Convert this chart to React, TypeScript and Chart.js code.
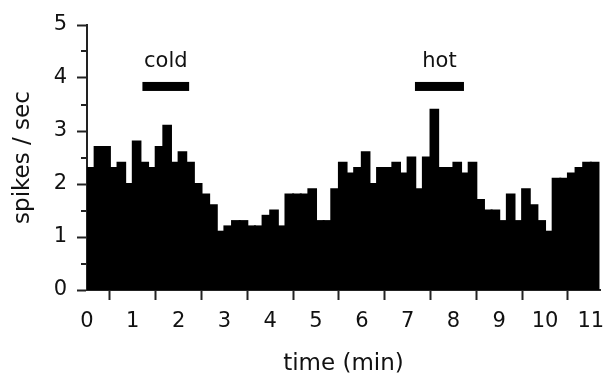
import { useEffect, useRef } from 'react';
import { Chart, registerables } from 'chart.js';

Chart.register(...registerables);

// ---- data ----
const BIN_MIN = 1 / 6; // 10 s bins, in minutes
const RATES = [
  2.3, 2.7, 2.7, 2.3, 2.4, 2.0, 2.8, 2.4, 2.3, 2.7,
  3.1, 2.4, 2.6, 2.4, 2.0, 1.8, 1.6, 1.1, 1.2, 1.3,
  1.3, 1.2, 1.2, 1.4, 1.5, 1.2, 1.8, 1.8, 1.8, 1.9,
  1.3, 1.3, 1.9, 2.4, 2.2, 2.3, 2.6, 2.0, 2.3, 2.3,
  2.4, 2.2, 2.5, 1.9, 2.5, 3.4, 2.3, 2.3, 2.4, 2.2,
  2.4, 1.7, 1.5, 1.5, 1.3, 1.8, 1.3, 1.9, 1.6, 1.3,
  1.1, 2.1, 2.1, 2.2, 2.3, 2.4, 2.4,
];
const X_TICKS = [0, 1, 2, 3, 4, 5, 6, 7, 8, 9, 10, 11];
const Y_TICKS = [0, 1, 2, 3, 4, 5];
const Y_MINOR = [0.5, 1.5, 2.5, 3.5, 4.5];
const STIM_LABELS = ['cold', 'hot'];
const STIM_START = [1.21, 7.16];
const STIM_END = [2.23, 8.23];
const STIM_BAR_Y = 3.85;
const STIM_TEXT_Y = 4.2;

const TEXT = '#111';
const AXIS = '#222';
const FAMILY = '"DejaVu Sans", sans-serif';

const extras = {
  id: 'extras',
  afterDatasetsDraw(chart: any) {
    const { ctx, chartArea } = chart;
    const x = chart.scales.x;
    const y = chart.scales.y;
    ctx.save();
    ctx.strokeStyle = AXIS;
    ctx.lineWidth = 2;
    Y_MINOR.forEach((v) => {
      const py = Math.round(y.getPixelForValue(v));
      ctx.beginPath();
      ctx.moveTo(chartArea.left - 6, py);
      ctx.lineTo(chartArea.left, py);
      ctx.stroke();
    });
    ctx.fillStyle = '#000';
    ctx.font = `21px ${FAMILY}`;
    ctx.textAlign = 'center';
    ctx.textBaseline = 'alphabetic';
    STIM_LABELS.forEach((lab, i) => {
      const x0 = x.getPixelForValue(STIM_START[i]);
      const x1 = x.getPixelForValue(STIM_END[i]);
      const py = y.getPixelForValue(STIM_BAR_Y);
      ctx.fillRect(x0, py - 4, x1 - x0, 9);
      ctx.fillStyle = TEXT;
      ctx.fillText(lab, (x0 + x1) / 2, y.getPixelForValue(STIM_TEXT_Y));
      ctx.fillStyle = '#000';
    });
    ctx.restore();
  },
};

export default function App() {
  const ref = useRef<HTMLCanvasElement>(null);
  useEffect(() => {
    if (!ref.current) return;
    Chart.defaults.font.family = FAMILY;
    const chart = new Chart(ref.current, {
      type: 'bar',
      data: {
        datasets: [
          {
            data: RATES.map((v, i) => ({ x: (i + 0.5) * BIN_MIN, y: v })),
            backgroundColor: '#000',
            borderWidth: 0,
            barPercentage: 1,
            categoryPercentage: 1,
            inflateAmount: 1,
          },
        ],
      },
      options: {
        animation: false,
        responsive: false,
        devicePixelRatio: 1,
        layout: { padding: { top: 25, right: 4, left: 0, bottom: 0 } },
        plugins: { legend: { display: false }, tooltip: { enabled: false } },
        scales: {
          x: {
            type: 'linear',
            min: 0,
            max: 11.2,
            offset: false,
            afterBuildTicks: (s: any) => {
              s.ticks = X_TICKS.map((v) => ({ value: v }));
            },
            afterFit: (s: any) => {
              s.height = 91;
              s.paddingLeft = 0;
              s.paddingRight = 0;
            },
            grid: { drawOnChartArea: false, drawTicks: true, tickLength: 10, tickWidth: 2, tickColor: AXIS },
            border: { display: true, color: AXIS, width: 2 },
            ticks: { font: { size: 21 }, color: TEXT, padding: 9, maxRotation: 0, autoSkip: false },
            title: { display: true, text: 'time (min)', font: { size: 23 }, color: TEXT, padding: { top: 0, bottom: 3 } },
          },
          y: {
            min: 0,
            max: 5,
            afterBuildTicks: (s: any) => {
              s.ticks = Y_TICKS.map((v) => ({ value: v }));
            },
            afterFit: (s: any) => {
              s.width = 87;
              s.paddingTop = 0;
              s.paddingBottom = 0;
            },
            grid: { drawOnChartArea: false, drawTicks: true, tickLength: 10, tickWidth: 2, tickColor: AXIS },
            border: { display: true, color: AXIS, width: 2 },
            ticks: { font: { size: 21 }, color: TEXT, padding: 10 },
            title: { display: true, text: 'spikes / sec', font: { size: 23 }, color: TEXT, padding: { top: 9, bottom: 0 } },
          },
        },
      },
      plugins: [extras],
    } as any);
    return () => chart.destroy();
  }, []);
  return (
    <div style={{ position: 'fixed', left: 0, top: 0, width: 604, height: 381, background: '#fff' }}>
      <canvas ref={ref} width={604} height={381} />
    </div>
  );
}
